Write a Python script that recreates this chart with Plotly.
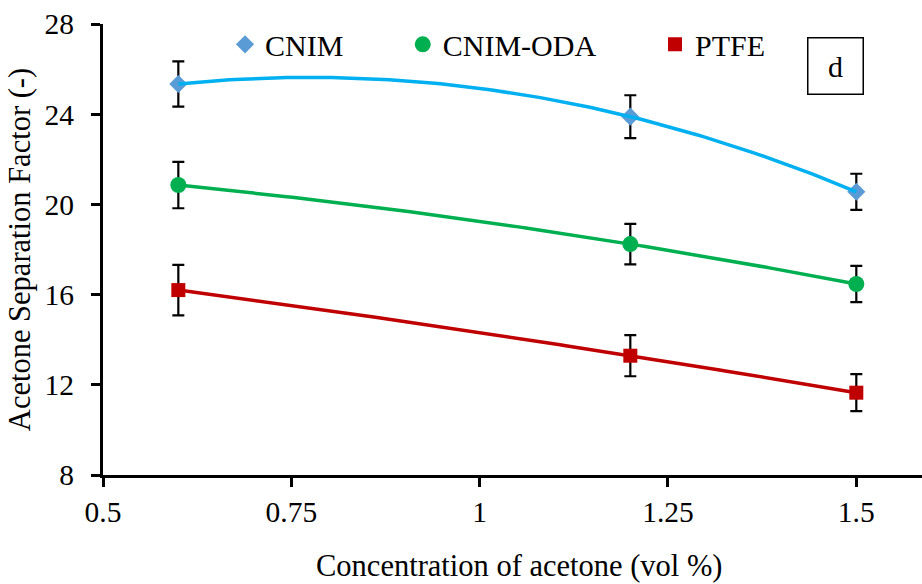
import numpy as np
import plotly.graph_objects as go

# ---- data ----
conc = [0.6, 1.2, 1.5]
cnim = [25.34, 23.89, 20.56]
cnim_err = [1.0, 0.95, 0.8]
cnim_oda = [20.86, 18.24, 16.47]
cnim_oda_err = [1.03, 0.9, 0.8]
ptfe = [16.2, 13.29, 11.65]
ptfe_err = [1.12, 0.91, 0.82]

x_ticks = [0.5, 0.75, 1, 1.25, 1.5]
x_tick_text = ["0.5", "0.75", "1", "1.25", "1.5"]
y_ticks = [8, 12, 16, 20, 24, 28]

FONT = "Liberation Serif"
FS_TICK = 29.5
FS_TITLE = 30.5
FS_LEG = 30

series = [
    ("CNIM", cnim, cnim_err, "diamond", 14, "#5B9BD5", "#00B0F0", "legend"),
    ("CNIM-ODA", cnim_oda, cnim_oda_err, "circle", 16, "#00B050", "#00B050", "legend2"),
    ("PTFE", ptfe, ptfe_err, "square", 14, "#C00000", "#C00000", "legend3"),
]

fig = go.Figure()
xs = np.linspace(min(conc), max(conc), 120)
for name, ys, err, sym, sz, mcol, lcol, leg in series:
    fig.add_trace(go.Scatter(
        x=conc, y=ys, mode="markers", name=name, legend=leg,
        marker=dict(symbol=sym, size=sz, color=mcol, line=dict(width=0)),
        error_y=dict(type="data", array=err, visible=True, color="black",
                     thickness=2.2, width=6),
    ))
for name, ys, err, sym, sz, mcol, lcol, leg in series:
    # polynomial (order 2) trendline, as in the original chart
    coef = np.polyfit(conc, ys, 2)
    fig.add_trace(go.Scatter(
        x=xs, y=np.polyval(coef, xs), mode="lines", showlegend=False,
        line=dict(color=lcol, width=3.5), hoverinfo="skip",
    ))

xr = [0.5, 1.5872]
yr = [8, 28]
tick_common = dict(showgrid=False, zeroline=False, ticklen=9, tickwidth=3,
                   tickcolor="black")

fig.update_layout(
    width=922, height=584,
    margin=dict(l=103, r=0, t=24, b=109),
    paper_bgcolor="white", plot_bgcolor="white",
    font=dict(family=FONT, size=FS_TICK, color="black"),
    xaxis=dict(range=xr, tickvals=x_ticks, ticktext=x_tick_text, ticks="outside",
               showline=True, linecolor="black", linewidth=3,
               ticklabelstandoff=0, tickfont=dict(size=FS_TICK),
               **tick_common),
    yaxis=dict(range=yr, tickvals=y_ticks, ticks="outside", showline=True,
               linecolor="black", linewidth=3,
               ticklabelstandoff=11, tickfont=dict(size=FS_TICK),
               title=dict(text="Acetone Separation Factor (-)", standoff=5,
                          font=dict(size=FS_TITLE)),
               **tick_common),
    xaxis2=dict(range=xr, overlaying="x", anchor="y", side="bottom",
                tickvals=x_ticks, ticks="inside", showticklabels=False,
                showline=False, **tick_common),
    yaxis2=dict(range=yr, overlaying="y", anchor="x", side="left",
                tickvals=y_ticks, ticks="inside", showticklabels=False,
                showline=False, **tick_common),
    legend=dict(x=0.149, y=0.955, xanchor="left", yanchor="middle",
                font=dict(size=FS_LEG), bgcolor="rgba(0,0,0,0)"),
    legend2=dict(x=0.366, y=0.955, xanchor="left", yanchor="middle",
                 font=dict(size=FS_LEG), bgcolor="rgba(0,0,0,0)"),
    legend3=dict(x=0.674, y=0.955, xanchor="left", yanchor="middle",
                 font=dict(size=FS_LEG), bgcolor="rgba(0,0,0,0)"),
    annotations=[
        dict(text="d", xref="paper", yref="paper", x=0.894, y=0.907,
             xanchor="center", yanchor="middle", showarrow=False,
             width=54, height=55, borderpad=0, borderwidth=1.5,
             bordercolor="black", bgcolor="white",
             font=dict(size=FS_LEG, family=FONT)),
        dict(text="Concentration of acetone (vol %)", xref="paper", yref="paper",
             x=0.509, y=-0.2018, xanchor="center", yanchor="middle",
             showarrow=False, font=dict(size=FS_TITLE, family=FONT)),
    ],
)

fig.write_html("out.html")
